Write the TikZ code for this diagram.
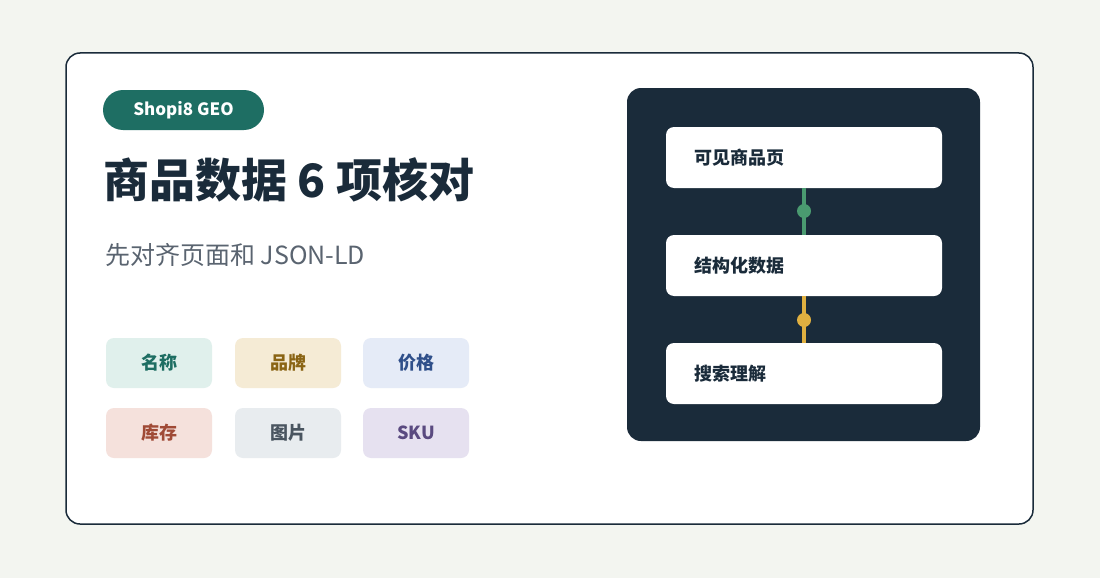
\documentclass[tikz,border=0pt]{standalone}
\usepackage{fontspec}
\setmainfont{Noto Sans CJK SC}
\usepackage{xcolor}
\definecolor{pagebg}{HTML}{F3F5F0}
\definecolor{ink}{HTML}{1A2B3A}
\definecolor{teal}{HTML}{1E6E63}
\definecolor{subgray}{HTML}{5A6470}
\definecolor{flowgreen}{HTML}{4A9A70}
\definecolor{flowgold}{HTML}{E0B040}
\usetikzlibrary{positioning}

\begin{document}
\begin{tikzpicture}[x=1pt,y=-1pt,
  tag/.style={rounded corners=8pt,minimum width=106pt,minimum height=50pt,inner sep=0pt,font=\fontsize{18}{20}\selectfont\bfseries},
  step box/.style={fill=white,rounded corners=8pt,minimum width=276pt,minimum height=61pt,inner sep=0pt},
  step text/.style={anchor=west,font=\fontsize{18}{20}\selectfont\bfseries,text=ink},
  dot/.style={circle,inner sep=0pt,minimum size=14pt}]

  \fill[pagebg] (0,0) rectangle (1100,578);
  \draw[ink,fill=white,line width=1.5pt,rounded corners=14pt] (66,53) rectangle (1033,524);

  % left side
  \node[fill=teal,rounded corners=20pt,minimum width=161pt,minimum height=40pt,inner sep=0pt,text=white,font=\fontsize{17}{19}\selectfont\bfseries] (pill) at (183.5,110) {Shopi8 GEO};
  \node[anchor=west,inner sep=0pt,text=ink,font=\fontsize{46}{50}\selectfont\bfseries] (title) at (103,180) {商品数据 6 项核对};
  \node[anchor=west,inner sep=0pt,text=subgray,font=\fontsize{25}{28}\selectfont] (sub) at (105,255) {先对齐页面和 JSON-LD};

  \node[tag,fill={rgb,255:red,224;green,240;blue,236},text=teal] (name) at (159,363) {名称};
  \node[tag,fill={rgb,255:red,245;green,235;blue,213},text={rgb,255:red,138;green,100;blue,20}] (brand) at (288,363) {品牌};
  \node[tag,fill={rgb,255:red,229;green,235;blue,247},text={rgb,255:red,47;green,79;blue,138}] (price) at (416,363) {价格};
  \node[tag,fill={rgb,255:red,245;green,225;blue,220},text={rgb,255:red,160;green,74;blue,54}] (stock) at (159,433) {库存};
  \node[tag,fill={rgb,255:red,232;green,236;blue,239},text={rgb,255:red,74;green,85;blue,96}] (image) at (288,433) {图片};
  \node[tag,fill={rgb,255:red,230;green,225;blue,240},text={rgb,255:red,90;green,74;blue,128}] (sku) at (416,433) {SKU};

  % right panel
  \fill[ink,rounded corners=14pt] (627,88) rectangle (980,441);
  \node[step box] (page) at (804,157.5) {};
  \node[step box] (data) at (804,265.5) {};
  \node[step box] (search) at (804,373.5) {};
  \node[step text] at ([xshift=25pt]page.west) {可见商品页};
  \node[step text] at ([xshift=25pt]data.west) {结构化数据};
  \node[step text] at ([xshift=25pt]search.west) {搜索理解};

  \draw[flowgreen,line width=4.5pt] (page.south) -- (data.north);
  \node[dot,fill=flowgreen] (d1) at (804,211) {};
  \draw[flowgold,line width=4.5pt] (data.south) -- (search.north);
  \node[dot,fill=flowgold] (d2) at (804,320) {};
\end{tikzpicture}
\end{document}
